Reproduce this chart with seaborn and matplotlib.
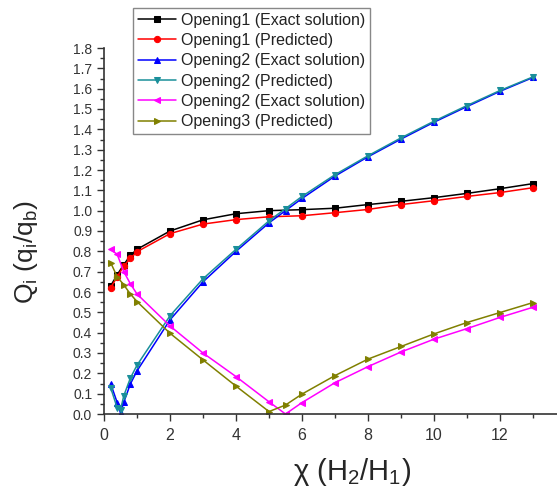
import pandas as pd
import seaborn as sns
import matplotlib.pyplot as plt
from matplotlib.ticker import MultipleLocator

sns.set_style("ticks")
plt.rcParams['font.family'] = ['Liberation Sans', 'DejaVu Sans']
plt.rcParams['mathtext.fontset'] = 'custom'
plt.rcParams['mathtext.rm'] = 'Liberation Sans'
plt.rcParams['mathtext.it'] = 'Liberation Sans'

# chi values
x_op1 = [0.2, 0.4, 0.6, 0.8, 1, 2, 3, 4, 5, 6, 7, 8, 9, 10, 11, 12, 13]
x_op2 = [0.2, 0.4, 0.5, 0.6, 0.8, 1, 2, 3, 4, 5, 5.5, 6, 7, 8, 9, 10, 11, 12, 13]
x_op3 = [0.2, 0.4, 0.6, 0.8, 1, 2, 3, 4, 5, 5.5, 6, 7, 8, 9, 10, 11, 12, 13]

op1_exact = [0.63, 0.685, 0.735, 0.78, 0.81, 0.90, 0.955, 0.985, 1.0, 1.005,
             1.012, 1.03, 1.046, 1.064, 1.085, 1.108, 1.133]
op1_pred = [0.62, 0.675, 0.728, 0.765, 0.798, 0.887, 0.934, 0.956, 0.97, 0.975,
            0.99, 1.006, 1.03, 1.049, 1.07, 1.089, 1.113]
op2_exact = [0.15, 0.056, 0.005, 0.058, 0.148, 0.212, 0.463, 0.65, 0.80, 0.94,
             1.0, 1.06, 1.17, 1.265, 1.352, 1.435, 1.512, 1.587, 1.655]
op2_pred = [0.13, 0.03, 0.02, 0.09, 0.177, 0.24, 0.483, 0.665, 0.81, 0.95,
            1.01, 1.07, 1.177, 1.27, 1.358, 1.44, 1.517, 1.591, 1.658]
op2b_exact = [0.81, 0.785, 0.70, 0.64, 0.59, 0.433, 0.30, 0.184, 0.06, 0.0,
              0.056, 0.154, 0.233, 0.305, 0.368, 0.42, 0.475, 0.525]
op3_pred = [0.745, 0.675, 0.635, 0.59, 0.553, 0.397, 0.266, 0.137, 0.012, 0.044,
            0.098, 0.189, 0.27, 0.332, 0.394, 0.45, 0.499, 0.548]

series = [
    ("Opening1 (Exact solution)", x_op1, op1_exact, "black", "s"),
    ("Opening1 (Predicted)", x_op1, op1_pred, "red", "o"),
    ("Opening2 (Exact solution)", x_op2, op2_exact, "#0000ff", "^"),
    ("Opening2 (Predicted)", x_op2, op2_pred, "#1a8f9a", "v"),
    ("Opening2 (Exact solution)", x_op3, op2b_exact, "#ff00ff", "<"),
    ("Opening3 (Predicted)", x_op3, op3_pred, "#808000", ">"),
]

fig = plt.figure(figsize=(5.57, 5.0), dpi=100)
# x axis runs past the right edge of the figure, like the reference
ax = fig.add_axes([104 / 557, 86 / 500, 14 * 33 / 557, 366 / 500])

for label, xs, ys, color, marker in series:
    df = pd.DataFrame({"x": xs, "y": ys})
    sns.lineplot(data=df, x="x", y="y", ax=ax, color=color, marker=marker,
                 markersize=4.5, markeredgecolor=color, linewidth=1.1,
                 label=label, sort=False)

ax.set_xlim(0, 14)
ax.set_ylim(0, 1.8)
ax.xaxis.set_major_locator(MultipleLocator(2))
ax.xaxis.set_minor_locator(MultipleLocator(1))
ax.yaxis.set_major_locator(MultipleLocator(0.1))
ax.yaxis.set_minor_locator(MultipleLocator(0.05))
ax.yaxis.set_major_formatter(plt.FuncFormatter(lambda v, p: f"{v:.1f}"))
ax.tick_params(which="major", direction="out", length=5, width=1,
               labelcolor="#333333", color="#333333")
ax.tick_params(axis="y", labelsize=10)
ax.tick_params(axis="x", labelsize=11.5, pad=5)
ax.tick_params(which="minor", direction="out", length=3, width=1, color="#333333")
sns.despine(ax=ax)
for s in ("left", "bottom"):
    ax.spines[s].set_color("#333333")
    ax.spines[s].set_linewidth(1.2)

ax.set_xlabel(r"$\chi$ (H$_2$/H$_1$)", fontsize=21)
ax.xaxis.set_label_coords((352 - 104) / 462, -0.115)
ax.set_ylabel("Q$_i$ (q$_i$/q$_b$)", fontsize=19)
ax.yaxis.set_label_coords(-(104 - 40) / 462, (414 - 252) / 366)

leg = ax.legend(loc="upper left", bbox_to_anchor=(133 / 557, 1 - 8 / 500),
                bbox_transform=fig.transFigure, fontsize=11.5, frameon=True,
                fancybox=False, edgecolor="#888888", framealpha=1,
                borderpad=0.3, labelspacing=0.33, handlelength=2.4,
                handletextpad=0.3, borderaxespad=0)
leg.get_frame().set_linewidth(1.0)
for t in leg.get_texts():
    t.set_color("#222222")

fig.savefig("out.png", dpi=100)
